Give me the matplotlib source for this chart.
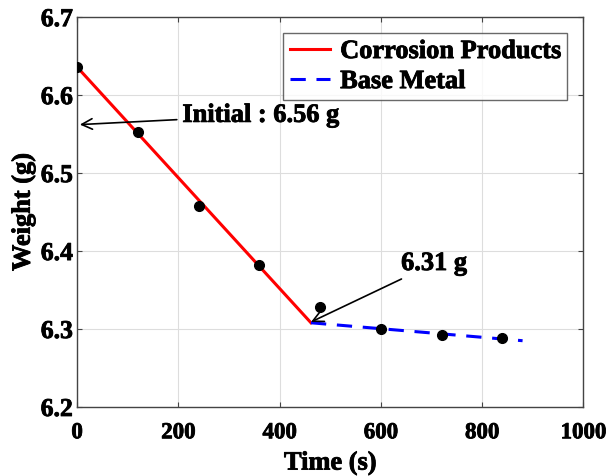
import numpy as np
import matplotlib.pyplot as plt
import matplotlib.patheffects as pe

# measured points
time_s = [0, 120, 240, 360, 480, 600, 720, 840]
weight_g = [6.636, 6.553, 6.458, 6.382, 6.328, 6.300, 6.292, 6.289]

# fitted lines
corr_x = [0, 462]
corr_y = [6.636, 6.308]
base_x = [462, 880]
base_y = [6.308, 6.285]

plt.rcParams['font.family'] = ['Liberation Serif', 'DejaVu Serif']
plt.rcParams['font.weight'] = 'bold'

fig = plt.figure(figsize=(6.07, 4.76), dpi=100)
ax = fig.add_axes([0.127, 0.145, 0.834, 0.819])

# thicken the bold text a bit
heavy = [pe.withStroke(linewidth=0.6, foreground='black')]

ax.plot(corr_x, corr_y, color='red', lw=2.2, label='Corrosion Products', zorder=3)
ax.plot(base_x, base_y, color='blue', lw=2.2, ls=(0, (5, 3.5)), label='Base Metal', zorder=3)
ax.plot(time_s, weight_g, 'o', color='black', ms=7, zorder=4)

ax.annotate('Initial : 6.56 g', xy=(0, 6.562), xytext=(208, 6.574),
            fontsize=19, fontweight='bold', va='center', path_effects=heavy,
            arrowprops=dict(arrowstyle='->', color='black', lw=1.2))
ax.annotate('6.31 g', xy=(462, 6.309), xytext=(640, 6.384),
            fontsize=19, fontweight='bold', va='center', path_effects=heavy,
            arrowprops=dict(arrowstyle='->', color='black', lw=1.2, shrinkA=2, shrinkB=0))

ax.set_xlim(0, 1000)
ax.set_ylim(6.2, 6.7)
ax.set_xticks([0, 200, 400, 600, 800, 1000])
ax.set_yticks([6.2, 6.3, 6.4, 6.5, 6.6, 6.7])
ax.set_yticklabels(['6.2', '6.3', '6.4', '6.5', '6.6', '6.7'])
ax.grid(True, color='#dddddd', lw=0.8)
ax.tick_params(direction='in', top=True, right=True, labelsize=18.5, color='#444444')
ax.tick_params(axis='x', pad=11, labelsize=16.5)
ax.tick_params(axis='y', pad=3)
for lab in ax.get_xticklabels() + ax.get_yticklabels():
    lab.set_fontweight('bold')
    lab.set_path_effects(heavy)
for s in ax.spines.values():
    s.set_color('#444444')
    s.set_linewidth(1.0)

ax.set_xlabel('Time (s)', fontsize=19, fontweight='bold', labelpad=6, path_effects=heavy)
ax.set_ylabel('Weight (g)', fontsize=19, fontweight='bold', labelpad=4, path_effects=heavy)

leg = ax.legend(loc='upper right', fontsize=19, frameon=True, fancybox=False,
                edgecolor='#444444', handlelength=1.5, handletextpad=0.4,
                borderpad=0.25, labelspacing=0.25, borderaxespad=0.6)
leg.get_frame().set_linewidth(1.0)
for t in leg.get_texts():
    t.set_fontweight('bold')
    t.set_path_effects(heavy)

fig.savefig('out.png', dpi=100)
